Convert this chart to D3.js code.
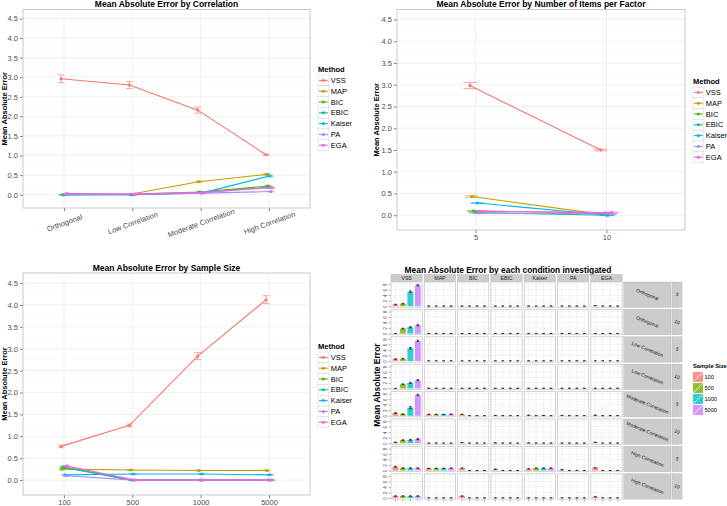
<!DOCTYPE html>
<html><head><meta charset="utf-8">
<script src="https://cdn.jsdelivr.net/npm/d3@7"></script>
<style>body{margin:0;background:#fff}svg{display:block}text{font-family:"Liberation Sans",Arial,Helvetica,sans-serif}</style>
</head><body><svg id="c" width="727" height="506"></svg>
<script>
// ---------------- data ----------------
const methods = ["VSS","MAP","BIC","EBIC","Kaiser","PA","EGA"];
const methodColors = ["#F8766D","#C49A00","#53B400","#00C094","#00B6EB","#A58AFF","#FB61D7"];
const yTickValues = [0,0.5,1,1.5,2,2.5,3,3.5,4,4.5];

const corrLevels = ["Orthogonal","Low Correlation","Moderate Correlation","High Correlation"];
const corrMeans = [
  [2.96,2.80,2.16,1.02],
  [0.00,0.01,0.33,0.52],
  [0.00,0.01,0.07,0.22],
  [0.00,0.00,0.05,0.19],
  [0.00,0.00,0.04,0.48],
  [0.01,0.01,0.04,0.08],
  [0.03,0.02,0.06,0.18]];
const corrErr = [
  [0.10,0.09,0.08,0.02],
  [0.00,0.01,0.02,0.02],
  [0.00,0.01,0.01,0.02],
  [0.00,0.00,0.01,0.02],
  [0.00,0.00,0.01,0.02],
  [0.01,0.01,0.01,0.01],
  [0.01,0.01,0.01,0.02]];

const itemLevels = ["5","10"];
const itemMeans = [
  [2.98,1.50],
  [0.43,0.02],
  [0.10,0.05],
  [0.06,0.00],
  [0.28,0.00],
  [0.05,0.03],
  [0.09,0.06]];
const itemErr = [
  [0.07,0.02],
  [0.02,0.01],
  [0.01,0.01],
  [0.01,0.00],
  [0.01,0.00],
  [0.01,0.01],
  [0.01,0.01]];

const sizeLevels = ["100","500","1000","5000"];
const sizeMeans = [
  [0.77,1.25,2.83,4.12],
  [0.25,0.23,0.22,0.22],
  [0.30,0.00,0.00,0.00],
  [0.29,0.00,0.00,0.00],
  [0.12,0.14,0.14,0.12],
  [0.10,0.00,0.00,0.00],
  [0.32,0.00,0.00,0.00]];
const sizeErr = [
  [0.03,0.03,0.08,0.09],
  [0.02,0.01,0.01,0.01],
  [0.02,0.00,0.00,0.00],
  [0.02,0.00,0.00,0.00],
  [0.01,0.01,0.01,0.01],
  [0.01,0.00,0.00,0.00],
  [0.02,0.00,0.00,0.00]];

// condition facets: rows = correlation x items, columns = methods, bars = sample size
const condCorr = ["Orthogonal","Orthogonal","Low Correlation","Low Correlation","Moderate Correlation","Moderate Correlation","High Correlation","High Correlation"];
const condItems = ["5","10","5","10","5","10","5","10"];
const sizeColors = ["#F8766D","#7CAE00","#00BFC4","#C77CFF"];
const condVSS    = [[0.6,0.9,5.3,7.6],[0.0,1.8,2.3,3.1],[0.7,0.85,4.6,7.3],[0.0,1.5,2.0,3.0],[1.0,0.6,3.0,7.6],[0.3,1.1,1.2,1.5],[1.4,0.9,0.9,0.9],[0.7,0.7,0.7,0.7]];
const condMAP    = [[0,0,0,0],[0,0,0,0],[0,0,0,0],[0,0,0,0],[0.5,0.5,0.5,0.6],[0,0,0,0],[0.8,0.8,0.8,0.9],[0,0,0,0]];
const condBIC    = [[0,0,0,0],[0,0,0,0],[0,0,0,0],[0,0,0,0],[0.5,0,0,0],[0.2,0,0,0],[0.9,0,0,0],[0.7,0,0,0]];
const condEBIC   = [[0,0,0,0],[0,0,0,0],[0,0,0,0],[0,0,0,0],[0.1,0,0,0],[0.1,0,0,0],[0.5,0,0,0],[0,0,0,0]];
const condKaiser = [[0,0,0,0],[0,0,0,0],[0,0,0,0],[0,0,0,0],[0.2,0,0.1,0],[0.1,0,0,0],[0.6,0.9,0.9,0.9],[0,0,0,0]];
const condPA     = [[0,0,0,0],[0,0,0,0],[0,0,0,0],[0,0,0,0],[0.1,0,0,0],[0,0,0,0],[0.3,0,0,0],[0,0,0,0]];
const condEGA    = [[0.2,0,0,0],[0,0,0,0],[0,0,0,0],[0,0,0,0],[0.2,0,0,0],[0.3,0,0,0],[1.0,0,0,0],[0.4,0,0,0]];
const condErrVSS = [[0.1,0.15,0.25,0.25],[0,0.15,0.2,0.25],[0.1,0.15,0.3,0.25],[0,0.15,0.2,0.25],[0.2,0.1,0.4,0.25],[0.1,0.15,0.15,0.2],[0.15,0.1,0.1,0.1],[0.1,0.1,0.1,0.1]];
const condFacetTicks = [0,2,4,6,8];

// ---------------- drawing ----------------
const svg = d3.select("#c");
const GRID = "#EBEBEB", MINOR = "#F7F7F7", BORDER = "#C4C4C4", AXT = "#4D4D4D";
const yDomain = [-0.34, 4.73];

function linePanel(o) {
  const g = svg.append("g");
  const x = d3.scalePoint().domain(o.levels).range([o.x0, o.x1]).padding(0.6);
  const y = d3.scaleLinear().domain(yDomain).range([o.y1, o.y0]);
  const step = x.step();
  const minors = d3.range(-0.25, 4.8, 0.5).filter(v => v > yDomain[0] && v < yDomain[1]);
  g.selectAll(".mn").data(minors).join("line").attr("x1", o.x0).attr("x2", o.x1)
    .attr("y1", d => y(d)).attr("y2", d => y(d)).attr("stroke", MINOR).attr("stroke-width", 0.6);
  g.selectAll(".mj").data(yTickValues).join("line").attr("x1", o.x0).attr("x2", o.x1)
    .attr("y1", d => y(d)).attr("y2", d => y(d)).attr("stroke", GRID).attr("stroke-width", 0.8);
  g.selectAll(".mv").data(o.levels).join("line").attr("y1", o.y0).attr("y2", o.y1)
    .attr("x1", d => x(d)).attr("x2", d => x(d)).attr("stroke", GRID).attr("stroke-width", 0.8);
  const ya = d3.axisLeft(y).tickValues(yTickValues).tickFormat(d3.format(".1f")).tickSize(3).tickPadding(2);
  const yg = g.append("g").attr("transform", `translate(${o.x0},0)`).call(ya);
  yg.select(".domain").remove();
  yg.selectAll("line").attr("stroke", "#7F7F7F");
  yg.selectAll("text").attr("font-size", 7.5).attr("fill", AXT).attr("font-family", '"Liberation Sans",Arial,sans-serif');
  const xa = d3.axisBottom(x).tickSize(3).tickPadding(2);
  const xg = g.append("g").attr("transform", `translate(0,${o.y1})`).call(xa);
  xg.select(".domain").remove();
  xg.selectAll("line").attr("stroke", "#7F7F7F");
  xg.selectAll("text").attr("font-size", 7.5).attr("fill", AXT).attr("font-family", '"Liberation Sans",Arial,sans-serif');
  if (o.rotate) {
    xg.selectAll("text").attr("text-anchor", "middle").attr("dy", null)
      .attr("transform", d => `translate(0,${o.rotDy}) rotate(-20)`).attr("y", 0).attr("dominant-baseline", "central");
  }
  methods.forEach((m, i) => {
    const off = step * 0.1 * (i - 3) / 7;
    const pts = o.levels.map((l, j) => ({ x: x(l) + off, v: o.means[i][j], e: o.errs[i][j] }));
    g.append("path").datum(pts).attr("fill", "none").attr("stroke", methodColors[i]).attr("stroke-width", 1.1)
      .attr("d", d3.line().x(d => d.x).y(d => y(d.v)));
    const cw = step * 0.1 / 2;
    pts.forEach(p => {
      const eg = g.append("g").attr("stroke", methodColors[i]).attr("stroke-width", 0.7).attr("opacity", 0.9);
      eg.append("line").attr("x1", p.x).attr("x2", p.x).attr("y1", y(p.v - p.e)).attr("y2", y(p.v + p.e));
      eg.append("line").attr("x1", p.x - cw).attr("x2", p.x + cw).attr("y1", y(p.v - p.e)).attr("y2", y(p.v - p.e));
      eg.append("line").attr("x1", p.x - cw).attr("x2", p.x + cw).attr("y1", y(p.v + p.e)).attr("y2", y(p.v + p.e));
    });
    g.selectAll(null).data(pts).join("circle").attr("cx", d => d.x).attr("cy", d => y(d.v)).attr("r", 1.5)
      .attr("fill", methodColors[i]);
  });
  g.append("rect").attr("x", o.x0).attr("y", o.y0).attr("width", o.x1 - o.x0).attr("height", o.y1 - o.y0)
    .attr("fill", "none").attr("stroke", BORDER).attr("stroke-width", 0.9);
  g.append("text").attr("x", (o.x0 + o.x1) / 2).attr("y", o.titleY).attr("text-anchor", "middle")
    .attr("font-size", 8.5).attr("font-weight", "bold").attr("fill", "#000").text(o.title);
  g.append("text").attr("transform", `translate(${o.ylabX},${(o.y0 + o.y1) / 2}) rotate(-90)`)
    .attr("text-anchor", "middle").attr("font-size", 7.5).attr("font-weight", "bold").text("Mean Absolute Error");
  const lg = g.append("g").attr("transform", `translate(${o.legX},${o.legY})`);
  lg.append("text").attr("x", 0).attr("y", 0).attr("font-size", 7.5).attr("font-weight", "bold").text("Method");
  const kh = 10.8;
  methods.forEach((m, i) => {
    const ky = 3 + i * kh;
    lg.append("rect").attr("x", 0).attr("y", ky).attr("width", kh).attr("height", kh)
      .attr("fill", "#fff").attr("stroke", "#D9D9D9").attr("stroke-width", 0.6);
    lg.append("line").attr("x1", 1).attr("x2", kh - 1).attr("y1", ky + kh / 2).attr("y2", ky + kh / 2)
      .attr("stroke", methodColors[i]).attr("stroke-width", 1.1);
    lg.append("circle").attr("cx", kh / 2).attr("cy", ky + kh / 2).attr("r", 1.5).attr("fill", methodColors[i]);
    lg.append("text").attr("x", kh + 2).attr("y", ky + kh / 2).attr("dominant-baseline", "central")
      .attr("font-size", 7.5).attr("fill", "#000").text(m);
  });
}

linePanel({ x0: 23, x1: 310, y0: 9.5, y1: 208, levels: corrLevels, means: corrMeans, errs: corrErr,
  title: "Mean Absolute Error by Correlation", titleY: 7, ylabX: 7, legX: 318, legY: 72, rotate: true, rotDy: 15 });
linePanel({ x0: 397, x1: 685, y0: 9.5, y1: 230, levels: itemLevels, means: itemMeans, errs: itemErr,
  title: "Mean Absolute Error by Number of Items per Factor", titleY: 7, ylabX: 379, legX: 693, legY: 84, rotate: false });
linePanel({ x0: 23, x1: 310, y0: 273, y1: 495, levels: sizeLevels, means: sizeMeans, errs: sizeErr,
  title: "Mean Absolute Error by Sample Size", titleY: 271, ylabX: 7, legX: 318, legY: 349, rotate: false });

// ---------------- facet panel ----------------
(function () {
  const condAll = [condVSS, condMAP, condBIC, condEBIC, condKaiser, condPA, condEGA];
  const fx0 = 391, colW = 31.3, colGap = 2, fy0 = 282, rowH = 25.3, rowGap = 2.1;
  const g = svg.append("g");
  const STRIP = "#CCCCCC";
  g.append("text").attr("x", 508).attr("y", 272.5).attr("text-anchor", "middle").attr("font-size", 8.4)
    .attr("font-weight", "bold").text("Mean Absolute Error by each condition investigated");
  methods.forEach((m, c) => {
    const px = fx0 + c * (colW + colGap);
    g.append("rect").attr("x", px).attr("y", 274.5).attr("width", colW).attr("height", 7)
      .attr("fill", STRIP).attr("stroke", "#B0B0B0").attr("stroke-width", 0.4);
    g.append("text").attr("x", px + colW / 2).attr("y", 278.2).attr("dominant-baseline", "central")
      .attr("text-anchor", "middle").attr("font-size", 5.2).attr("fill", "#1A1A1A").text(m);
  });
  condCorr.forEach((cr, r) => {
    const py = fy0 + r * (rowH + rowGap);
    const y = d3.scaleLinear().domain([-0.42, 8.8]).range([py + rowH, py]);
    g.append("rect").attr("x", 623.8).attr("y", py).attr("width", 47.2).attr("height", rowH)
      .attr("fill", STRIP).attr("stroke", "#B0B0B0").attr("stroke-width", 0.4);
    g.append("text").attr("transform", `translate(647.4,${py + rowH / 2}) rotate(22)`).attr("text-anchor", "middle")
      .attr("dominant-baseline", "central").attr("font-size", 4.8).attr("fill", "#1A1A1A").text(cr);
    g.append("rect").attr("x", 672).attr("y", py).attr("width", 10).attr("height", rowH)
      .attr("fill", STRIP).attr("stroke", "#B0B0B0").attr("stroke-width", 0.4);
    g.append("text").attr("transform", `translate(677,${py + rowH / 2}) rotate(22)`).attr("text-anchor", "middle")
      .attr("dominant-baseline", "central").attr("font-size", 4.8).attr("fill", "#1A1A1A").text(condItems[r]);
    const ya = d3.axisLeft(y).tickValues(condFacetTicks).tickSize(2.5).tickPadding(1);
    const yg = g.append("g").attr("transform", `translate(${fx0},0)`).call(ya);
    yg.select(".domain").remove();
    yg.selectAll("line").attr("stroke", "#7F7F7F").attr("stroke-width", 0.6);
    yg.selectAll("text").attr("font-size", 4.5).attr("fill", AXT).attr("text-anchor", "middle").attr("dy", null)
      .attr("dominant-baseline", "central").attr("x", null)
      .attr("transform", d => `translate(-5.2,0) rotate(-90)`);
    methods.forEach((m, c) => {
      const px = fx0 + c * (colW + colGap);
      const x = d3.scalePoint().domain(sizeLevels).range([px, px + colW]).padding(0.6);
      const bw = x.step() * 0.8;
      [1, 3, 5, 7].forEach(v => g.append("line").attr("x1", px).attr("x2", px + colW).attr("y1", y(v)).attr("y2", y(v))
        .attr("stroke", MINOR).attr("stroke-width", 0.5));
      condFacetTicks.forEach(v => g.append("line").attr("x1", px).attr("x2", px + colW).attr("y1", y(v)).attr("y2", y(v))
        .attr("stroke", GRID).attr("stroke-width", 0.6));
      sizeLevels.forEach(s => g.append("line").attr("x1", x(s)).attr("x2", x(s)).attr("y1", py).attr("y2", py + rowH)
        .attr("stroke", GRID).attr("stroke-width", 0.6));
      const vals = condAll[c][r];
      sizeLevels.forEach((s, k) => {
        const v = vals[k];
        g.append("rect").attr("x", x(s) - bw / 2).attr("width", bw).attr("y", y(v)).attr("height", Math.max(0, y(0) - y(v)))
          .attr("fill", sizeColors[k]).attr("fill-opacity", 0.8);
        const e = c === 0 ? condErrVSS[r][k] : 0.05;
        const eg = g.append("g").attr("stroke", "#000").attr("stroke-width", 0.6);
        eg.append("line").attr("x1", x(s)).attr("x2", x(s)).attr("y1", y(Math.max(0, v - e))).attr("y2", y(v + e));
        eg.append("line").attr("x1", x(s) - 1.3).attr("x2", x(s) + 1.3).attr("y1", y(v + e)).attr("y2", y(v + e));
        eg.append("line").attr("x1", x(s) - 1.3).attr("x2", x(s) + 1.3).attr("y1", y(Math.max(0, v - e))).attr("y2", y(Math.max(0, v - e)));
      });
      g.append("rect").attr("x", px).attr("y", py).attr("width", colW).attr("height", rowH)
        .attr("fill", "none").attr("stroke", BORDER).attr("stroke-width", 0.7);
      if (r === condCorr.length - 1) {
        sizeLevels.forEach(s => g.append("line").attr("x1", x(s)).attr("x2", x(s)).attr("y1", py + rowH).attr("y2", py + rowH + 2.5)
          .attr("stroke", "#7F7F7F").attr("stroke-width", 0.6));
      }
    });
  });
  g.append("text").attr("transform", `translate(380,385) rotate(-90)`).attr("text-anchor", "middle")
    .attr("font-size", 8.5).attr("font-weight", "bold").text("Mean Absolute Error");
  const lg = g.append("g").attr("transform", "translate(693,368)");
  lg.append("text").attr("x", 0).attr("y", 0).attr("font-size", 5.8).attr("font-weight", "bold").text("Sample Size");
  sizeLevels.forEach((s, k) => {
    const ky = 4 + k * 11;
    lg.append("rect").attr("x", 0).attr("y", ky).attr("width", 10).attr("height", 10)
      .attr("fill", sizeColors[k]).attr("fill-opacity", 0.8);
    lg.append("line").attr("x1", 0.5).attr("y1", ky + 9.5).attr("x2", 9.5).attr("y2", ky + 0.5)
      .attr("stroke", "#fff").attr("stroke-width", 0.8);
    lg.append("text").attr("x", 11.5).attr("y", ky + 5).attr("dominant-baseline", "central")
      .attr("font-size", 5.6).text(s);
  });
})();
</script></body></html>
